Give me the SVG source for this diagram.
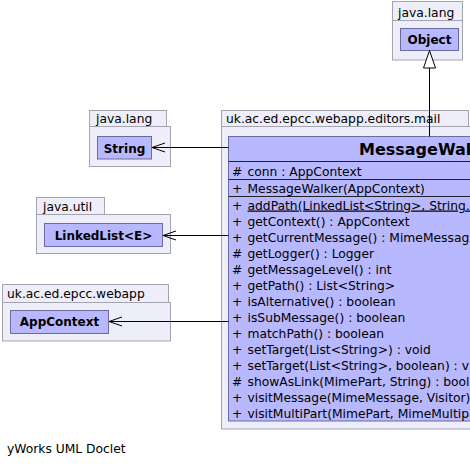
<svg xmlns="http://www.w3.org/2000/svg" width="470" height="467" viewBox="0 0 470 467">
<style>
.pkg{fill:#eeeefa;stroke:#a4a4b0;stroke-width:1}
.cls{fill:#b8b8ff;stroke:#6c6c9c;stroke-width:1}
.sep{stroke:#222;stroke-width:1}
.t{font-family:"DejaVu Sans",sans-serif;font-size:12.3px;fill:#000}
.b{font-family:"DejaVu Sans",sans-serif;font-size:12px;font-weight:bold;fill:#000}
.title{font-family:"DejaVu Sans",sans-serif;font-size:16px;font-weight:bold;fill:#000}
.edge{stroke:#000;stroke-width:1;fill:none}
</style>
<rect width="470" height="467" fill="#fff"/>
<g id="pkg-java-lang-object">
<rect class="pkg" x="392.5" y="1.5" width="70" height="19"/>
<rect class="pkg" x="392.5" y="20.5" width="70" height="39.5"/>
<text class="t" x="398" y="17">java.lang</text>
<g id="Object">
<rect class="cls" x="400.5" y="28.5" width="58" height="22"/>
<text class="b" x="429.5" y="44" text-anchor="middle">Object</text>
</g>
</g>
<g id="pkg-java-lang-string">
<rect class="pkg" x="89.5" y="110.5" width="77" height="16"/>
<rect class="pkg" x="89.5" y="126.5" width="81" height="40"/>
<text class="t" x="96" y="123">java.lang</text>
<g id="String">
<rect class="cls" x="97.5" y="136.5" width="54" height="22.5"/>
<text class="b" x="124.5" y="152.5" text-anchor="middle">String</text>
</g>
</g>
<g id="pkg-java-util">
<rect class="pkg" x="36.5" y="197.5" width="68" height="17"/>
<rect class="pkg" x="36.5" y="214.5" width="134" height="39"/>
<text class="t" x="43" y="210.5">java.util</text>
<g id="LinkedList">
<rect class="cls" x="44.5" y="223.5" width="118" height="23"/>
<text class="b" x="103.5" y="239.5" text-anchor="middle">LinkedList&lt;E&gt;</text>
</g>
</g>
<g id="pkg-webapp">
<rect class="pkg" x="2.5" y="284.5" width="166" height="18"/>
<rect class="pkg" x="2.5" y="302.5" width="168" height="38.5"/>
<text class="t" x="7" y="297.5">uk.ac.ed.epcc.webapp</text>
<g id="AppContext">
<rect class="cls" x="10.5" y="310.5" width="98" height="23"/>
<text class="b" x="59.5" y="326" text-anchor="middle">AppContext</text>
</g>
</g>
<g id="pkg-mail">
<rect class="pkg" x="221.5" y="110.5" width="247" height="16"/>
<rect class="pkg" x="221.5" y="126.5" width="420" height="302.5"/>
<text class="t" x="226" y="122.5">uk.ac.ed.epcc.webapp.editors.mail</text>
<g id="MessageWalker">
<rect class="cls" x="228.5" y="136.5" width="402" height="284.5"/>
<line class="sep" x1="228.5" y1="161.5" x2="630.5" y2="161.5"/>
<line class="sep" x1="228.5" y1="179.5" x2="630.5" y2="179.5"/>
<line class="sep" x1="228.5" y1="196.5" x2="630.5" y2="196.5"/>
<text class="title" x="359" y="154.5">MessageWalker</text>
<g class="t">
<text x="232" y="176">#</text><text x="247.5" y="176">conn : AppContext</text>
<text x="232" y="192.5">+</text><text x="247.5" y="192.5">MessageWalker(AppContext)</text>
<text x="232" y="209.5">+</text><text x="247.5" y="209.5" text-decoration="underline">addPath(LinkedList&lt;String&gt;, String...</text>
<text x="232" y="225.5">+</text><text x="247.5" y="225.5">getContext() : AppContext</text>
<text x="232" y="241.5">+</text><text x="247.5" y="241.5">getCurrentMessage() : MimeMessag</text>
<text x="232" y="257.5">#</text><text x="247.5" y="257.5">getLogger() : Logger</text>
<text x="232" y="273.5">#</text><text x="247.5" y="273.5">getMessageLevel() : int</text>
<text x="232" y="289.5">+</text><text x="247.5" y="289.5">getPath() : List&lt;String&gt;</text>
<text x="232" y="305.5">+</text><text x="247.5" y="305.5">isAlternative() : boolean</text>
<text x="232" y="321.5">+</text><text x="247.5" y="321.5">isSubMessage() : boolean</text>
<text x="232" y="337.5">+</text><text x="247.5" y="337.5">matchPath() : boolean</text>
<text x="232" y="353.5">+</text><text x="247.5" y="353.5">setTarget(List&lt;String&gt;) : void</text>
<text x="232" y="369.5">+</text><text x="247.5" y="369.5">setTarget(List&lt;String&gt;, boolean) : v</text>
<text x="232" y="385.5">#</text><text x="247.5" y="385.5">showAsLink(MimePart, String) : bool</text>
<text x="232" y="401.5">+</text><text x="247.5" y="401.5">visitMessage(MimeMessage, Visitor)</text>
<text x="232" y="417.5">+</text><text x="247.5" y="417.5">visitMultiPart(MimePart, MimeMultipa</text>
</g>
</g>
</g>
<g id="connectors">
<line class="edge" x1="429.5" y1="68" x2="429.5" y2="136.5"/>
<polygon points="429.5,50.5 423.5,68 435.5,68" fill="#fff" stroke="#000" stroke-width="1"/>
<line class="edge" x1="152" y1="147.5" x2="228.5" y2="147.5"/>
<polyline class="edge" points="165,143 152,147.5 165,152"/>
<line class="edge" x1="163" y1="235.5" x2="228.5" y2="235.5"/>
<polyline class="edge" points="176,231 163,235.5 176,240"/>
<line class="edge" x1="109" y1="321.5" x2="228.5" y2="321.5"/>
<polyline class="edge" points="122,317 109,321.5 122,326"/>
</g>
<text class="t" x="7" y="453">yWorks UML Doclet</text>
</svg>
